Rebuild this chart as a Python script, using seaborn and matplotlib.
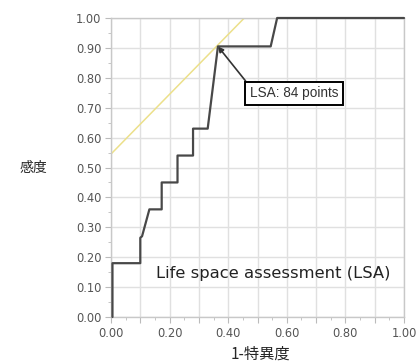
import pandas as pd
import matplotlib.pyplot as plt
import seaborn as sns
from matplotlib.ticker import MultipleLocator

# ROC curve points (1-specificity, sensitivity)
fpr = [0.005, 0.005, 0.10, 0.10, 0.106, 0.131, 0.173, 0.173, 0.227, 0.227, 0.28, 0.28, 0.33, 0.365, 0.545, 0.567, 1.00]
tpr = [0.00, 0.18, 0.18, 0.265, 0.27, 0.36, 0.36, 0.45, 0.45, 0.54, 0.54, 0.63, 0.63, 0.905, 0.905, 1.00, 1.00]

# tangent line (Youden)
tan_x = [0.0, 0.46]
tan_y = [0.545, 1.005]

cut_x, cut_y = 0.365, 0.905

sns.set_style("white")
plt.rcParams['font.family'] = ['DejaVu Sans', 'Noto Sans CJK JP']

fig = plt.figure(figsize=(4.17, 3.63), dpi=100)
ax = fig.add_axes([111 / 417, 1 - 317 / 363, 293 / 417, 299 / 363])

df = pd.DataFrame({'fpr': fpr, 'tpr': tpr})
sns.lineplot(x=tan_x, y=tan_y, color='#ece08a', linewidth=1.1, estimator=None, ax=ax)
sns.lineplot(data=df, x='fpr', y='tpr', sort=False, estimator=None, color='#484848',
             linewidth=1.6, clip_on=False, zorder=5, ax=ax)

ax.set_xticks([i / 10 for i in range(11)])
ax.set_xticklabels([f'{i / 10:.2f}' if i % 2 == 0 else '' for i in range(11)])
ax.set_yticks([i / 10 for i in range(11)])
ax.set_yticklabels([f'{i / 10:.2f}' for i in range(11)])
ax.xaxis.set_minor_locator(MultipleLocator(0.05))
ax.yaxis.set_minor_locator(MultipleLocator(0.05))
ax.set_xlim(0, 1)
ax.set_ylim(0, 1)
ax.grid(True, which='major', color='#e0e0e0', linewidth=1.0)
ax.tick_params(which='major', direction='out', length=4, width=0.8, color='#bbbbbb',
               labelsize=8.3, labelcolor='#555555', pad=3, bottom=True, left=True)
ax.tick_params(which='minor', direction='out', length=2, width=0.6, color='#bbbbbb',
               bottom=True, left=True)
for s in ax.spines.values():
    s.set_color('#c8c8c8')
    s.set_linewidth(1.0)

ax.set_xlabel('')
ax.set_ylabel('')
fig.text(260 / 417, 1 - 354 / 363, '1-特異度', ha='center', va='center', fontsize=11,
         family=['Noto Sans CJK JP'])
fig.text(33 / 417, 1 - 168 / 363, '感度', ha='center', va='center', fontsize=10,
         family=['Noto Sans CJK JP'])

ax.text(0.155, 0.147, 'Life space assessment (LSA)', fontsize=11.8, color='#222222',
        ha='left', va='center')

ax.annotate('LSA: 84 points', xy=(cut_x, cut_y), xytext=(0.474, 0.748),
            fontsize=9.8, color='#333333', ha='left', va='center', family=['Liberation Sans'],
            bbox=dict(boxstyle='square,pad=0.35', fc='white', ec='black', lw=1.4),
            arrowprops=dict(arrowstyle='-|>', color='#333333', lw=1.2, mutation_scale=8,
                            shrinkA=0, shrinkB=0, relpos=(0, 1)))

fig.savefig('out.png', dpi=100)
